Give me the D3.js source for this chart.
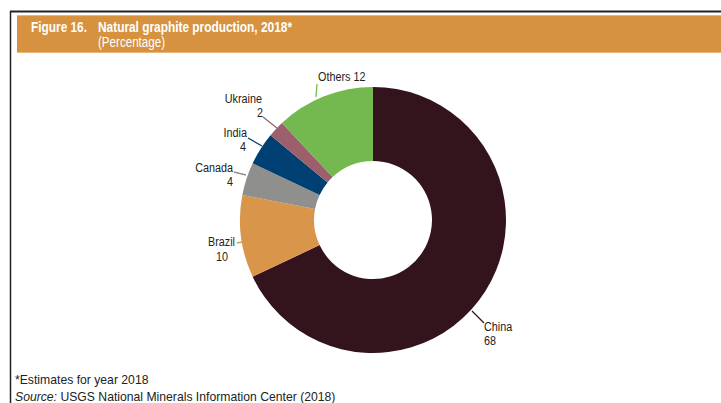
<!DOCTYPE html>
<html>
<head>
<meta charset="utf-8">
<script src="https://cdn.jsdelivr.net/npm/d3@7"></script>
<style>
  html, body { margin: 0; padding: 0; background: #fff; }
  svg { display: block; }
  text { font-family: "Liberation Sans", Arial, Helvetica, sans-serif; }
</style>
</head>
<body>
<svg id="chart" width="721" height="403"></svg>
<script>
// Natural graphite production shares, 2018 (percent)
const countries = ["China", "Brazil", "Canada", "India", "Ukraine", "Others"];
const shares = [68, 10, 4, 4, 2, 12];
const sliceColors = ["#33141c", "#d9954a", "#8f8f8d", "#003f72", "#9c5f6b", "#73b94f"];

// Label placement: name line, value line, leader line end points
const labelPos = {
  China:   { name: [484, 331, "start"], value: [484, 345, "start"], line: [[472, 311], [484, 323]] },
  Brazil:  { name: [235, 246, "end"],   value: [228, 261, "end"],   line: [[237, 243], [242, 242]] },
  Canada:  { name: [233, 172, "end"],   value: [233, 186, "end"],   line: [[234, 172], [246, 175]] },
  India:   { name: [247, 137, "end"],   value: [246, 151, "end"],   line: [[248, 138], [262, 146]] },
  Ukraine: { name: [262, 103, "end"],   value: [263, 117, "end"],   line: [[263, 117], [277, 128]] },
  Others:  { name: [318, 81, "start"],  value: null,                line: [[317, 84], [316, 97]] }
};

const svg = d3.select("#chart");
const W = 721, H = 403;
const squeeze = 0.8; // condensed look for the label face

function condText(parent, x, y, str, size, anchor, opts = {}) {
  const t = parent.append("g")
    .attr("transform", `translate(${x},${y}) scale(${squeeze},1)`)
    .append("text")
    .attr("x", 0).attr("y", 0)
    .attr("font-size", size)
    .attr("text-anchor", anchor)
    .attr("fill", opts.fill || "#222")
    .attr("font-weight", opts.weight || "normal")
    .text(str);
  return t;
}

// Frame
svg.append("line").attr("x1", 10).attr("x2", W).attr("y1", 11.5).attr("y2", 11.5)
  .attr("stroke", "#222").attr("stroke-width", 2);
svg.append("line").attr("x1", 10.5).attr("x2", 10.5).attr("y1", 11).attr("y2", H)
  .attr("stroke", "#222").attr("stroke-width", 1.5);

// Header band
svg.append("rect").attr("x", 17).attr("y", 15).attr("width", W - 17).attr("height", 38)
  .attr("fill", "#d6923f");
svg.append("line").attr("x1", 17).attr("x2", W).attr("y1", 15.5).attr("y2", 15.5)
  .attr("stroke", "#e8b67c").attr("stroke-width", 1);
svg.append("line").attr("x1", 17).attr("x2", W).attr("y1", 52.5).attr("y2", 52.5)
  .attr("stroke", "#e8b67c").attr("stroke-width", 1);

svg.append("text").attr("x", 31).attr("y", 32)
  .attr("fill", "#fff").attr("font-size", 15).attr("font-weight", "bold")
  .attr("textLength", 56).attr("lengthAdjust", "spacingAndGlyphs")
  .text("Figure 16.");
svg.append("text").attr("x", 98).attr("y", 32)
  .attr("fill", "#fff").attr("font-size", 15).attr("font-weight", "bold")
  .attr("textLength", 194).attr("lengthAdjust", "spacingAndGlyphs")
  .text("Natural graphite production, 2018*");
svg.append("text").attr("x", 98).attr("y", 47)
  .attr("fill", "#fff").attr("font-size", 14)
  .attr("textLength", 67).attr("lengthAdjust", "spacingAndGlyphs")
  .text("(Percentage)");

// Donut
const cx = 373, cy = 220, rOuter = 133, rInner = 59;
const data = countries.map((c, i) => ({ name: c, value: shares[i], color: sliceColors[i] }));
const pie = d3.pie().value(d => d.value).sort(null);
const arc = d3.arc().innerRadius(rInner).outerRadius(rOuter);

const g = svg.append("g").attr("transform", `translate(${cx},${cy})`);
g.selectAll("path").data(pie(data)).join("path")
  .attr("d", arc)
  .attr("fill", d => d.data.color);

// Labels with leader lines
data.forEach(d => {
  const p = labelPos[d.name];
  svg.append("line")
    .attr("x1", p.line[0][0]).attr("y1", p.line[0][1])
    .attr("x2", p.line[1][0]).attr("y2", p.line[1][1])
    .attr("stroke", d.color).attr("stroke-width", 1.3);
  if (p.value) {
    condText(svg, p.name[0], p.name[1], d.name, 13.5, p.name[2]);
    condText(svg, p.value[0], p.value[1], String(d.value), 13.5, p.value[2]);
  } else {
    condText(svg, p.name[0], p.name[1], `${d.name} ${d.value}`, 13.5, p.name[2]);
  }
});

// Footnotes
svg.append("text").attr("x", 15).attr("y", 384)
  .attr("font-size", 12.2).attr("fill", "#222")
  .text("*Estimates for year 2018");
const src = svg.append("text").attr("x", 15).attr("y", 401)
  .attr("font-size", 12.2).attr("fill", "#222");
src.append("tspan").attr("font-style", "italic").text("Source:");
src.append("tspan").text(" USGS National Minerals Information Center (2018)");
</script>
</body>
</html>
